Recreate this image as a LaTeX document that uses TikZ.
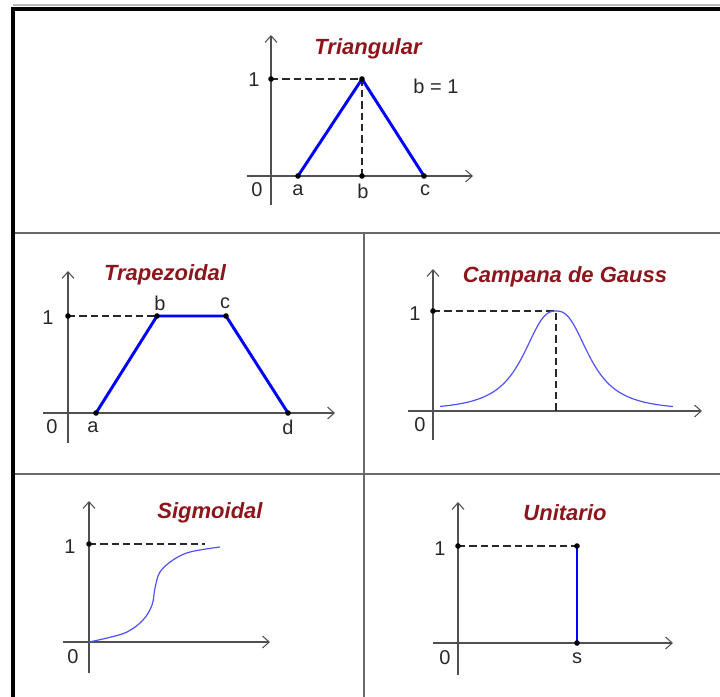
\documentclass[tikz,border=0pt]{standalone}
\usepackage{fontspec}
\setmainfont{Liberation Sans}
\usetikzlibrary{arrows.meta}
\definecolor{ttlred}{RGB}{140,22,28}
\definecolor{mfblue}{RGB}{0,0,255}
\definecolor{curveblue}{RGB}{80,80,255}
\definecolor{axgray}{RGB}{80,80,80}
\definecolor{txtgray}{RGB}{40,40,40}
\definecolor{divgray}{RGB}{105,105,105}

\begin{document}
\begin{tikzpicture}[x=0.75pt, y=-0.75pt,
  ax/.style={draw=axgray, line width=1pt, -{Straight Barb[length=5pt,width=9pt,line width=0.8pt]}},
  guide/.style={draw=txtgray, line width=0.85pt, dash pattern=on 5.5pt off 3pt},
  mf/.style={draw=mfblue, line width=2.2pt, line join=round},
  curve/.style={draw=curveblue, line width=0.9pt},
  pt/.style={fill=black, circle, inner sep=0pt, minimum size=4.2pt},
  ttl/.style={text=ttlred, font=\fontsize{16.5}{19}\selectfont\bfseries\itshape},
  lbl/.style={text=txtgray, font=\fontsize{15}{17}\selectfont, inner sep=0pt}]
\useasboundingbox (0,0) rectangle (720,696);
\draw[gray!55, line width=1.2pt] (13,5) -- (730,5);
\draw[black, line width=3pt] (13,710) -- (13,8.5) -- (730,8.5);
\draw[divgray, line width=1.5pt] (15,233) -- (730,233) (15,474) -- (730,474) (364,233) -- (364,710);

\node[ttl] (ttri) at (368,49) {Triangular};
\draw[ax] (247,176) -- (473,176); \draw[ax] (271,205) -- (271,35);
\coordinate (ta) at (298,176); \coordinate (tb) at (362,79); \coordinate (tc) at (424,176);
\coordinate (tone) at (271,79); \coordinate (tbx) at (362,176);
\draw[guide] (tone) -- (tb) -- (tbx);
\draw[mf] (ta) -- (tb) -- (tc);
\foreach \p in {tone,ta,tb,tc,tbx} \node[pt] at (\p) {};
\node[lbl] (tl1) at (254,80) {1}; \node[lbl] (tl0) at (257,190) {0};
\node[lbl] (tla) at (298,190) {a}; \node[lbl] (tlb) at (363,191) {b}; \node[lbl] (tlc) at (425,190) {c};
\node[lbl] (tlbeq) at (436,86) {b = 1};

\node[ttl] (ttrap) at (165,275) {Trapezoidal};
\draw[ax] (43,413) -- (335,413); \draw[ax] (68,443) -- (68,271);
\coordinate (za) at (96,413); \coordinate (zb) at (157,316); \coordinate (zc) at (226,316);
\coordinate (zd) at (288,413); \coordinate (zone) at (68,316);
\draw[guide] (zone) -- (zb);
\draw[mf] (za) -- (zb) -- (zc) -- (zd);
\foreach \p in {zone,za,zb,zc,zd} \node[pt] at (\p) {};
\node[lbl] (zl1) at (48,318) {1}; \node[lbl] (zl0) at (52,427) {0};
\node[lbl] (zla) at (93,427) {a}; \node[lbl] (zld) at (288,427) {d};
\node[lbl] (zlb) at (160,303) {b}; \node[lbl] (zlc) at (225,303) {c};

\node[ttl] (tgauss) at (565,277) {Campana de Gauss};
\draw[ax] (408,411) -- (702,411); \draw[ax] (433,440) -- (433,269);
\coordinate (gpk) at (556,311); \coordinate (gone) at (433,311); \coordinate (gbx) at (556,411);
\draw[guide] (gone) -- (gpk) -- (gbx);
\draw[curve] plot[domain=440:673, samples=90] (\x, {411 - 100/(1 + (max(abs(\x-556),0.01)/36)^2.6)});
\node[pt] at (gone) {};
\node[lbl] (gl1) at (415,314) {1}; \node[lbl] (gl0) at (420,425) {0};

\node[ttl] (tsig) at (210,513) {Sigmoidal};
\draw[ax] (63,642) -- (270,642); \draw[ax] (89,673) -- (89,501);
\coordinate (sone) at (89,544); \coordinate (sdash) at (205,544);
\draw[guide] (sone) -- (sdash);
\draw[curve] plot[smooth, tension=0.6] coordinates {(89,642) (107,638) (127,632) (143,620) (152,605) (155,588) (160,572) (173,560) (190,552) (220,547)};
\node[pt] at (sone) {};
\node[lbl] (sl1) at (70,547) {1}; \node[lbl] (sl0) at (73,657) {0};

\node[ttl] (tunit) at (565,513) {Unitario};
\draw[ax] (433,643) -- (673,643); \draw[ax] (458,675) -- (458,502);
\coordinate (uone) at (458,546); \coordinate (utop) at (577,546); \coordinate (us) at (577,643);
\draw[guide] (uone) -- (utop);
\draw[mf] (utop) -- (us);
\foreach \p in {uone,utop,us} \node[pt] at (\p) {};
\node[lbl] (ul1) at (440,549) {1}; \node[lbl] (ul0) at (445,658) {0}; \node[lbl] (uls) at (577,658) {s};
\end{tikzpicture}
\end{document}
